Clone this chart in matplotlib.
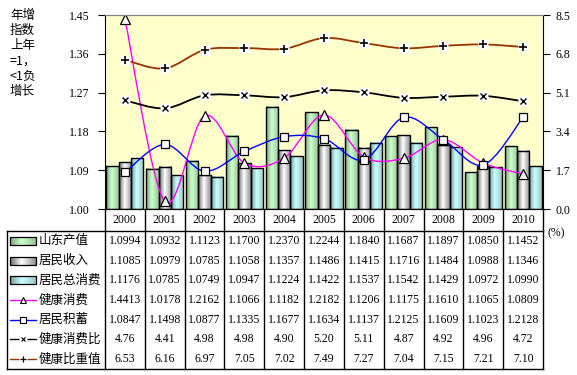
import numpy as np
import matplotlib
matplotlib.use("Agg")
import matplotlib.pyplot as plt
from matplotlib.path import Path
from matplotlib.patches import PathPatch, Rectangle
from matplotlib.lines import Line2D
from matplotlib.colors import LinearSegmentedColormap

# data
years = ['2000', '2001', '2002', '2003', '2004', '2005', '2006', '2007', '2008', '2009', '2010']
shandong_gdp = [1.0994, 1.0932, 1.1123, 1.1700, 1.2370, 1.2244, 1.1840, 1.1687, 1.1897, 1.0850, 1.1452]
income = [1.1085, 1.0979, 1.0785, 1.1058, 1.1357, 1.1486, 1.1415, 1.1716, 1.1484, 1.0988, 1.1346]
total_consume = [1.1176, 1.0785, 1.0749, 1.0947, 1.1224, 1.1422, 1.1537, 1.1542, 1.1429, 1.0972, 1.0990]
health_consume = [1.4413, 1.0178, 1.2162, 1.1066, 1.1182, 1.2182, 1.1206, 1.1175, 1.1610, 1.1065, 1.0809]
savings = [1.0847, 1.1498, 1.0877, 1.1335, 1.1677, 1.1634, 1.1137, 1.2125, 1.1609, 1.1023, 1.2128]
health_ratio = [4.76, 4.41, 4.98, 4.98, 4.90, 5.20, 5.11, 4.87, 4.92, 4.96, 4.72]
health_share = [6.53, 6.16, 6.97, 7.05, 7.02, 7.49, 7.27, 7.04, 7.15, 7.21, 7.10]

bar_names = ['山东产值', '居民收入', '居民总消费']
line_names = ['健康消费', '居民积蓄', '健康消费比', '健康比重值']
left_ticks = [1.00, 1.09, 1.18, 1.27, 1.36, 1.45]
right_ticks = [0.0, 1.7, 3.4, 5.1, 6.8, 8.5]
side_note = ['年增', '指数', '上年', '=1，', '<1负', '增长']

cjk = ['Noto Sans CJK SC', 'DejaVu Sans']
serif = 'Liberation Serif'

# gradient colours of the bars (dark edge -> light -> mid)
bar_cmaps = [
    LinearSegmentedColormap.from_list('g', [(0, '#7FA37F'), (0.45, '#CCFFCC'), (1, '#99C499')]),
    LinearSegmentedColormap.from_list('w', [(0, '#6A6A6A'), (0.45, '#FFFFFF'), (1, '#8E8E8E')]),
    LinearSegmentedColormap.from_list('c', [(0, '#6E9A9A'), (0.45, '#CCFFFF'), (1, '#99C8C8')]),
]
grad = np.linspace(0, 1, 64).reshape(1, -1)


def smooth_path(xs, ys):
    # excel style smoothed line: cubic bezier through the points
    pts = np.column_stack([xs, ys]).astype(float)
    n = len(pts)
    verts = [pts[0]]
    codes = [Path.MOVETO]
    for i in range(n - 1):
        p0 = pts[i - 1] if i > 0 else pts[i]
        p1 = pts[i]
        p2 = pts[i + 1]
        p3 = pts[i + 2] if i + 2 < n else pts[i + 1]
        verts += [p1 + (p2 - p0) / 6, p2 - (p3 - p1) / 6, p2]
        codes += [Path.CURVE4] * 3
    return Path(verts, codes)


W, H = 577, 375
L, R, T, B = 105, 543, 15, 209

fig = plt.figure(figsize=(W / 100, H / 100), dpi=100)
ax = fig.add_axes([L / W, 1 - B / H, (R - L) / W, (B - T) / H])
ax.set_facecolor('#FFFFCC')

x = np.arange(len(years))
bw = 0.31
for k, vals in enumerate([shandong_gdp, income, total_consume]):
    for xi, v in zip(x, vals):
        x0 = xi + (k - 1) * bw - bw / 2
        ax.imshow(grad, extent=[x0, x0 + bw, 1.0, v], aspect='auto', cmap=bar_cmaps[k], zorder=2)
        ax.add_patch(Rectangle((x0, 1.0), bw, v - 1.0, fill=False, ec='black', lw=1.0, zorder=3))

ax.add_patch(PathPatch(smooth_path(x, health_consume), fill=False, ec='#FF00FF', lw=1.0, zorder=4))
ax.plot(x, health_consume, ls='none', marker='^', ms=6.5, mfc='white', mec='black', mew=0.9, zorder=5)
ax.add_patch(PathPatch(smooth_path(x, savings), fill=False, ec='#0000FF', lw=1.0, zorder=4))
ax.plot(x, savings, ls='none', marker='s', ms=5.5, mfc='white', mec='black', mew=0.9, zorder=5)

ax.set_xlim(-0.5, len(years) - 0.5)
ax.set_ylim(1.0, 1.45)
ax.set_yticks(left_ticks)
ax.set_yticklabels(['%.2f' % t for t in left_ticks], fontfamily=serif, fontsize=8.5)
ax.set_xticks([])
ax.tick_params(axis='y', direction='out', length=5, width=0.8, pad=6)
ax.spines['top'].set_color('#808080')
ax.spines['right'].set_visible(False)

ax2 = ax.twinx()
ax2.add_patch(PathPatch(smooth_path(x, health_ratio), fill=False, ec='black', lw=1.3, zorder=4))
ax2.plot(x, health_ratio, ls='none', marker='s', ms=7, mfc='white', mec='none', zorder=5)
ax2.plot(x, health_ratio, ls='none', marker='x', ms=5, mec='black', mew=1.0, zorder=6)
ax2.add_patch(PathPatch(smooth_path(x, health_share), fill=False, ec='#993300', lw=1.3, zorder=4))
ax2.plot(x, health_share, ls='none', marker='s', ms=7, mfc='white', mec='none', zorder=5)
ax2.plot(x, health_share, ls='none', marker='+', ms=6, mec='black', mew=1.2, zorder=6)
ax2.set_xlim(-0.5, len(years) - 0.5)
ax2.set_ylim(0, 8.5)
ax2.set_yticks(right_ticks)
ax2.set_yticklabels(['%.1f' % t for t in right_ticks], fontfamily=serif, fontsize=8.5)
ax2.tick_params(axis='y', direction='out', length=5, width=0.8, pad=4)
ax2.spines['top'].set_color('#808080')
ax2.spines['left'].set_visible(False)

# data table drawn in pixel coordinates on an overlay
tb = fig.add_axes([0, 0, 1, 1])
tb.set_xlim(0, W)
tb.set_ylim(H, 0)
tb.axis('off')

col_w = (R - L) / len(years)
head_y = 220
row_top, row_h = 231, 19.7
tab_left, tab_bottom = 7, 369

tb.plot([tab_left, R], [row_top, row_top], color='black', lw=1.0)
tb.plot([tab_left, R], [tab_bottom, tab_bottom], color='black', lw=1.0)
tb.plot([tab_left, tab_left], [row_top, tab_bottom], color='black', lw=1.0)
for k in range(len(years) + 1):
    xx = L + k * col_w
    tb.plot([xx, xx], [B, tab_bottom], color='black', lw=1.0)

for i, yr in enumerate(years):
    tb.text(L + (i + 0.5) * col_w, head_y, yr, ha='center', va='center', fontfamily=serif, fontsize=8.5)

rows = [shandong_gdp, income, total_consume, health_consume, savings, health_ratio, health_share]
fmts = ['%.4f'] * 5 + ['%.2f'] * 2
names = bar_names + line_names
for r, (vals, fmt, name) in enumerate(zip(rows, fmts, names)):
    cy = row_top + (r + 0.5) * row_h
    for i, v in enumerate(vals):
        tb.text(L + (i + 0.5) * col_w, cy, fmt % v, ha='center', va='center', fontfamily=serif, fontsize=8.5)
    tb.text(39, cy, name, ha='left', va='center', fontfamily=cjk, fontsize=9)
    if r < 3:
        tb.imshow(grad, extent=[10, 36, cy + 4, cy - 4], aspect='auto', cmap=bar_cmaps[r], zorder=2)
        tb.add_patch(Rectangle((10, cy - 4), 26, 8, fill=False, ec='black', lw=0.9, zorder=3))

key_y = [row_top + (r + 0.5) * row_h for r in range(3, 7)]
tb.plot([10, 36], [key_y[0]] * 2, color='#FF00FF', lw=1.0)
tb.plot([23], [key_y[0]], marker='^', ms=5, mfc='white', mec='black', mew=0.8)
tb.plot([10, 36], [key_y[1]] * 2, color='#0000FF', lw=1.0)
tb.plot([23], [key_y[1]], marker='s', ms=4.5, mfc='white', mec='black', mew=0.8)
tb.plot([10, 36], [key_y[2]] * 2, color='black', lw=1.0)
tb.plot([23], [key_y[2]], marker='s', ms=6, mfc='white', mec='none')
tb.plot([23], [key_y[2]], marker='x', ms=3.5, mec='black', mew=0.8)
tb.plot([10, 36], [key_y[3]] * 2, color='#993300', lw=1.0)
tb.plot([23], [key_y[3]], marker='s', ms=6, mfc='white', mec='none')
tb.plot([23], [key_y[3]], marker='+', ms=4.5, mec='black', mew=0.9)

tb.text(556, 233, '(%)', ha='center', va='center', fontfamily=serif, fontsize=8.5)
for i, s in enumerate(side_note):
    tb.text(10, 15 + i * 15.4, s, ha='left', va='center', fontfamily=cjk, fontsize=9)

tb.set_xlim(0, W)
tb.set_ylim(H, 0)

fig.savefig('out.png', dpi=100)
